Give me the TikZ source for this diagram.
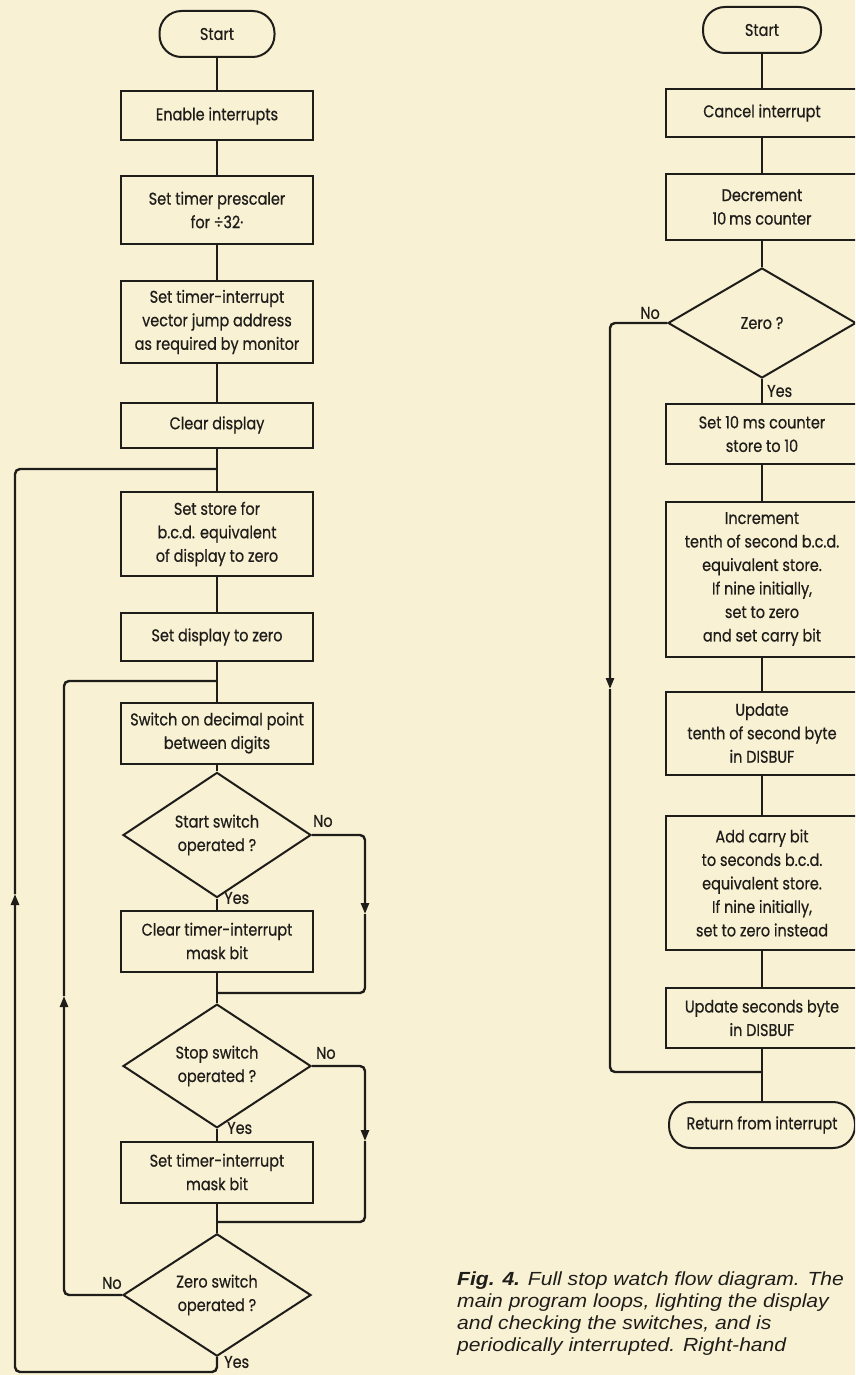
\documentclass[tikz,border=0pt]{standalone}
\usepackage{fontspec}
\usepackage{tikz}
\usetikzlibrary{shapes.geometric,arrows.meta}
\newfontfamily\flowfont[FakeStretch=0.85,FakeBold=0.6]{Poppins}
\newfontfamily\capfont[FakeStretch=1.11]{Liberation Sans}
\definecolor{paper}{HTML}{F8F1D4}
\definecolor{ink}{HTML}{1F1D1A}

\begin{document}
\begin{tikzpicture}[x=1pt,y=-1pt,
    every node/.style={font=\flowfont\fontsize{17}{23.5}\selectfont,text=ink},
    box/.style={draw=ink,line width=2pt,minimum width=192pt,inner sep=2pt,align=center},
    term/.style={box,rounded corners=22pt,minimum height=46pt},
    decide/.style={draw=ink,line width=2pt,diamond,minimum width=188pt,minimum height=107pt,inner sep=0pt,align=center},
    link/.style={draw=ink,line width=2.4pt},
    backline/.style={link,rounded corners=5pt},
    arrowed/.style={-{Triangle[length=11pt,width=8pt]}},
    lab/.style={anchor=west,inner sep=0pt}]
  \useasboundingbox (0,0) rectangle (855,1375);
  \clip (0,0) rectangle (855,1375);
  \fill[paper] (0,0) rectangle (855,1375);

  % main program
  \node[term,minimum width=115pt] (startL) at (217,34) {Start};
  \node[box,minimum height=49pt] (enable) at (217,116) {Enable interrupts};
  \node[box,minimum height=68pt] (presc) at (217,210) {Set timer prescaler\\for ÷32·};
  \node[box,minimum height=82pt] (vector) at (217,322) {Set timer-interrupt\\vector jump address\\as required by monitor};
  \node[box,minimum height=45pt] (clear) at (217,425) {Clear display};
  \node[box,minimum height=84pt] (store) at (217,534) {Set store for\\b.c.d. equivalent\\of display to zero};
  \node[box,minimum height=48pt] (dispzero) at (217,637) {Set display to zero};
  \node[box,minimum height=61pt] (decpt) at (217,733) {Switch on decimal point\\between digits};
  \node[decide] (startsw) at (217,835) {Start switch\\operated ?};
  \node[box,minimum height=61pt] (clrmask) at (217,941) {Clear timer-interrupt\\mask bit};
  \node[decide] (stopsw) at (217,1066) {Stop switch\\operated ?};
  \node[box,minimum height=61pt] (setmask) at (217,1172) {Set timer-interrupt\\mask bit};
  \node[decide] (zerosw) at (217,1295) {Zero switch\\operated ?};

  \coordinate (j1) at (217,469);
  \coordinate (j2) at (217,681);
  \coordinate (m1) at (217,993);
  \coordinate (m2) at (217,1222);
  \coordinate (bot) at (217,1372);
  \coordinate (a1) at (365,914);
  \coordinate (a2) at (365,1141);
  \coordinate (a3) at (64,996);
  \coordinate (a4) at (15,894);

  \draw[link] (startL) -- (enable) -- (presc) -- (vector) -- (clear) -- (store)
    -- (dispzero) -- (decpt) -- (startsw) -- (clrmask) -- (stopsw) -- (setmask) -- (zerosw);
  \draw[backline,arrowed] (startsw.east) -| (a1);
  \draw[backline] (a1) |- (m1);
  \draw[backline,arrowed] (stopsw.east) -| (a2);
  \draw[backline] (a2) |- (m2);
  \draw[backline,arrowed] (zerosw.west) -| (a3);
  \draw[backline] (a3) |- (j2);
  \draw[backline,arrowed] (zerosw.south) -- (bot) -| (a4);
  \draw[backline] (a4) |- (j1);

  \node[lab] at (313,821) {No};
  \node[lab] at (224,898) {Yes};
  \node[lab] at (316,1053) {No};
  \node[lab] at (227,1128) {Yes};
  \node[lab] at (102,1283) {No};
  \node[lab] at (224,1362) {Yes};

  % interrupt routine
  \node[term,minimum width=118pt] (startR) at (762,30) {Start};
  \node[box,minimum height=48pt] (cancel) at (762,113) {Cancel interrupt};
  \node[box,minimum height=65pt] (decr) at (762,207) {Decrement\\10\,ms counter};
  \node[decide,minimum height=110pt] (zeroq) at (762,323) {Zero ?};
  \node[box,minimum height=60pt] (set10) at (762,434) {Set 10 ms counter\\store to 10};
  \node[box,minimum height=155pt] (incr) at (762,579) {Increment\\tenth of second b.c.d.\\equivalent store.\\If nine initially,\\set to zero\\and set carry bit};
  \node[box,minimum height=83pt] (updtenth) at (762,733) {Update\\tenth of second byte\\in DISBUF};
  \node[box,minimum height=134pt] (addcarry) at (762,883) {Add carry bit\\to seconds b.c.d.\\equivalent store.\\If nine initially,\\set to zero instead};
  \node[box,minimum height=60pt] (updsec) at (762,1018) {Update seconds byte\\in DISBUF};
  \node[term,minimum width=186pt] (ret) at (762,1125) {Return from interrupt};

  \coordinate (m3) at (762,1072);
  \coordinate (a5) at (610,689);

  \draw[link] (startR) -- (cancel) -- (decr) -- (zeroq) -- (set10) -- (incr)
    -- (updtenth) -- (addcarry) -- (updsec) -- (ret);
  \draw[backline,arrowed] (zeroq.west) -| (a5);
  \draw[backline] (a5) |- (m3);

  \node[lab,anchor=east] at (660,313) {No};
  \node[lab] at (767,391) {Yes};

  \node[anchor=north west,align=left,inner sep=0pt,
    font=\capfont\itshape\fontsize{19}{21.7}\selectfont] (caption) at (457,1272)
    {\textbf{Fig. 4.} Full stop watch flow diagram. The\\
     main program loops, lighting the display\\
     and checking the switches, and is\\
     periodically interrupted.  Right-hand};
\end{tikzpicture}
\end{document}
